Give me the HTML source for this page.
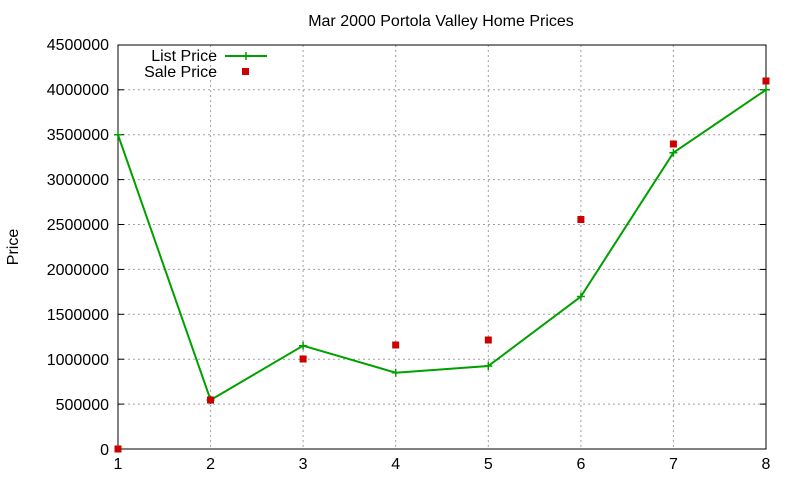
<!DOCTYPE html>
<html><head><meta charset="utf-8"><style>
body{margin:0;background:#fff}
svg text{font-family:"Liberation Sans",sans-serif;font-size:16px;fill:#000}
</style></head><body>
<svg width="800" height="480" xmlns="http://www.w3.org/2000/svg">
<rect width="800" height="480" fill="#fff"/>
<g stroke="#a0a0a0" stroke-width="1" stroke-dasharray="2,3">
<line x1="118" y1="404.1" x2="766" y2="404.1"/>
<line x1="118" y1="359.2" x2="766" y2="359.2"/>
<line x1="118" y1="314.3" x2="766" y2="314.3"/>
<line x1="118" y1="269.4" x2="766" y2="269.4"/>
<line x1="118" y1="224.5" x2="766" y2="224.5"/>
<line x1="118" y1="179.6" x2="766" y2="179.6"/>
<line x1="118" y1="134.7" x2="766" y2="134.7"/>
<line x1="118" y1="89.8" x2="766" y2="89.8"/>
<line x1="210.6" y1="45" x2="210.6" y2="449"/>
<line x1="303.1" y1="45" x2="303.1" y2="449"/>
<line x1="395.7" y1="45" x2="395.7" y2="449"/>
<line x1="488.3" y1="45" x2="488.3" y2="449"/>
<line x1="580.9" y1="45" x2="580.9" y2="449"/>
<line x1="673.4" y1="45" x2="673.4" y2="449"/>
</g>
<rect x="118" y="45" width="648" height="404" fill="none" stroke="#000" stroke-width="1"/>
<g stroke="#000">
<line x1="118" y1="404.1" x2="124" y2="404.1"/><line x1="118" y1="359.2" x2="124" y2="359.2"/>
<line x1="118" y1="314.3" x2="124" y2="314.3"/><line x1="118" y1="269.4" x2="124" y2="269.4"/>
<line x1="118" y1="224.5" x2="124" y2="224.5"/><line x1="118" y1="179.6" x2="124" y2="179.6"/>
<line x1="118" y1="134.7" x2="124" y2="134.7"/><line x1="118" y1="89.8" x2="124" y2="89.8"/>
<line x1="766" y1="404.1" x2="760" y2="404.1"/><line x1="766" y1="359.2" x2="760" y2="359.2"/>
<line x1="766" y1="314.3" x2="760" y2="314.3"/><line x1="766" y1="269.4" x2="760" y2="269.4"/>
<line x1="766" y1="224.5" x2="760" y2="224.5"/><line x1="766" y1="179.6" x2="760" y2="179.6"/>
<line x1="766" y1="134.7" x2="760" y2="134.7"/><line x1="766" y1="89.8" x2="760" y2="89.8"/>
</g>
<g text-anchor="end">
<text x="109" y="455">0</text><text x="109" y="410">500000</text><text x="109" y="365">1000000</text>
<text x="109" y="320">1500000</text><text x="109" y="275">2000000</text><text x="109" y="230">2500000</text>
<text x="109" y="185">3000000</text><text x="109" y="140">3500000</text><text x="109" y="95">4000000</text>
<text x="109" y="50">4500000</text>
</g>
<g text-anchor="middle">
<text x="118" y="469">1</text><text x="210.6" y="469">2</text><text x="303.1" y="469">3</text>
<text x="395.7" y="469">4</text><text x="488.3" y="469">5</text><text x="580.9" y="469">6</text>
<text x="673.4" y="469">7</text><text x="766" y="469">8</text>
<text x="441" y="26">Mar 2000 Portola Valley Home Prices</text>
<text transform="translate(18,247) rotate(-90)">Price</text>
</g>
<text x="217" y="61" text-anchor="end">List Price</text>
<text x="217" y="77" text-anchor="end">Sale Price</text>
<line x1="225" y1="56" x2="267" y2="56" stroke="#00a000" stroke-width="2"/>
<path d="M242 56h8M246 52v8" stroke="#00a000" stroke-width="1.5"/>
<rect x="242" y="68" width="7" height="7" fill="#cc0000"/>
<polyline fill="none" stroke="#00a000" stroke-width="2" points="118,134.8 210.6,400 303.1,345.7 395.7,372.7 488.3,366 580.9,296.5 673.4,152.7 766,89.8"/>
<g stroke="#00a000" stroke-width="1.5">
<path d="M114 134.8h8M118 130.8v8"/><path d="M206.6 400h8M210.6 396v8"/><path d="M299.1 345.7h8M303.1 341.7v8"/>
<path d="M391.7 372.7h8M395.7 368.7v8"/><path d="M484.3 366h8M488.3 362v8"/><path d="M576.9 296.5h8M580.9 292.5v8"/>
<path d="M669.4 152.7h8M673.4 148.7v8"/><path d="M762 89.8h8M766 85.8v8"/>
</g>
<g fill="#cc0000">
<rect x="114.5" y="445.5" width="7" height="7"/><rect x="207" y="396.5" width="7" height="7"/>
<rect x="299.6" y="355.5" width="7" height="7"/><rect x="392.2" y="341.5" width="7" height="7"/>
<rect x="484.8" y="336.5" width="7" height="7"/><rect x="577.4" y="216" width="7" height="7"/>
<rect x="669.9" y="140.5" width="7" height="7"/><rect x="762.5" y="77.5" width="7" height="7"/>
</g>
</svg>
</body></html>
